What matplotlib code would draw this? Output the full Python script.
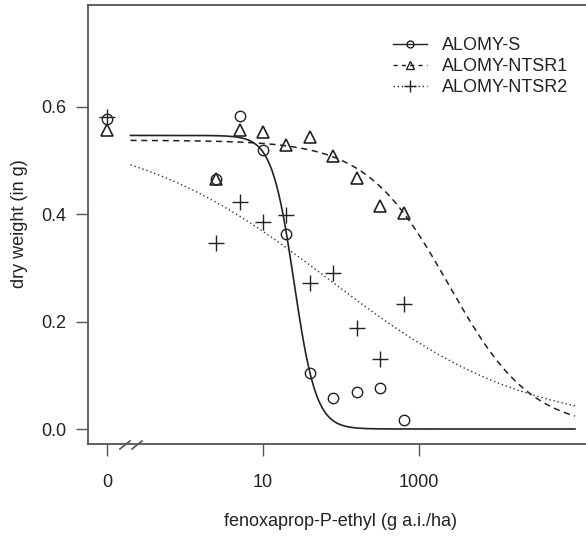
import numpy as np
import matplotlib
matplotlib.use("Agg")
import matplotlib.pyplot as plt
import matplotlib.transforms as mtransforms
from matplotlib.lines import Line2D

plt.rcParams['font.family'] = ['Liberation Sans', 'DejaVu Sans']

# ---- data (dose 0 is drawn at the broken-axis position 0.1) ----
doses = [0, 2.5, 5, 10, 20, 40, 80, 160, 320, 640]
zero_pos = 0.1
break_pos = 0.2

s_weight = [0.578, 0.466, 0.584, 0.519, 0.363, 0.104, 0.058, 0.069, 0.076, 0.016]
ntsr1_weight = [0.558, 0.466, 0.557, 0.553, 0.530, 0.545, 0.509, 0.468, 0.415, 0.402]
ntsr2_weight = [0.581, 0.347, 0.423, 0.385, 0.399, 0.272, 0.291, 0.188, 0.130, 0.233]

# log-logistic fits: (b, c, d, e)
s_fit = (3.07, 0.0, 0.547, 25.0)
ntsr1_fit = (0.82, 0.0, 0.538, 2400.0)
ntsr2_fit = (0.34, 0.0, 0.56, 68.0)

labels = ["ALOMY-S", "ALOMY-NTSR1", "ALOMY-NTSR2"]
xtick_vals = [0.1, 10, 1000]
xtick_labels = ["0", "10", "1000"]
ytick_vals = [0.0, 0.2, 0.4, 0.6]

def ll4(x, b, c, d, e):
    return c + (d - c) / (1 + np.exp(b * (np.log(x) - np.log(e))))

FS = 13
W, H = 586, 536
fig = plt.figure(figsize=(W / 100, H / 100), dpi=100)
left, right, top, bottom = 88, 610, 5, 444
ax = fig.add_axes([left / W, (H - bottom) / H, (right - left) / W, (bottom - top) / H])

ax.set_xscale('log')
lo = -1 - (107 - left) / 78.0
hi = -1 + (right - 107) / 78.0
ax.set_xlim(10 ** lo, 10 ** hi)
ppu = 322 / 0.6
ax.set_ylim(-(bottom - 429) / ppu, (429 - top) / ppu)

col = '#222222'
spine_col = '#555555'

xplot = [zero_pos if d == 0 else d for d in doses]
xx = np.logspace(np.log10(break_pos), 5, 400)

ax.plot(xx, ll4(xx, *s_fit), '-', color=col, lw=1.2)
ax.plot(xx, ll4(xx, *ntsr1_fit), '--', color=col, lw=1.1, dashes=(4, 3))
ax.plot(xx, ll4(xx, *ntsr2_fit), ':', color='#333333', lw=1.0, dashes=(1, 2))

ax.plot(xplot, s_weight, 'o', ms=7.5, mfc='none', mec=col, mew=1.0, ls='none')
ax.plot(xplot, ntsr1_weight, '^', ms=8.5, mfc='none', mec=col, mew=1.2, ls='none')
ax.plot(xplot, ntsr2_weight, '+', ms=11, mec=col, mew=1.0, ls='none')

handles = [
    Line2D([], [], color=col, ls='-', lw=1.0, marker='o', ms=5, mfc='none', mec=col),
    Line2D([], [], color=col, ls='--', lw=1.0, dashes=(3, 3), marker='^', ms=6, mfc='none', mec=col),
    Line2D([], [], color=col, ls=':', lw=1.0, dashes=(1, 2), marker='+', ms=9, mec=col),
]
ax.legend(handles, labels, loc='upper left',
          bbox_to_anchor=((386 - left) / (right - left), 1 - (30 - top) / (bottom - top)),
          frameon=False, fontsize=FS, handlelength=1.85, handletextpad=0.85,
          labelspacing=0.22, borderaxespad=0, labelcolor='#222222')

ax.set_xticks(xtick_vals)
ax.set_xticklabels(xtick_labels)
ax.minorticks_off()
ax.set_yticks(ytick_vals)
ax.set_yticklabels([f"{v:.1f}" for v in ytick_vals])
ax.tick_params(axis='both', direction='out', length=8.5, width=1.0, color=spine_col,
               labelsize=FS, labelcolor='#222222')
ax.tick_params(axis='y', pad=7)
ax.tick_params(axis='x', pad=13)

for side in ['left', 'bottom', 'top', 'right']:
    ax.spines[side].set_color(spine_col)
    ax.spines[side].set_linewidth(1.3)

# axis break slashes
trans = mtransforms.blended_transform_factory(ax.transData, ax.transAxes)
hpx = bottom - top
for c in [-0.77, -0.615]:
    x0, x1 = 10 ** (c - 5 / 78.0), 10 ** (c + 5 / 78.0)
    ax.plot([x0, x1], [-5 / hpx, 3 / hpx], color=spine_col, lw=1.2, transform=trans, clip_on=False)

fig.text(341 / W, 1 - 522 / H, "fenoxaprop-P-ethyl (g a.i./ha)", ha='center', va='center',
         fontsize=FS, color='#222222')
fig.text(20 / W, 1 - 224 / H, "dry weight (in g)", ha='center', va='center', rotation=90,
         fontsize=FS, color='#222222')

fig.savefig("out.png", dpi=100)
